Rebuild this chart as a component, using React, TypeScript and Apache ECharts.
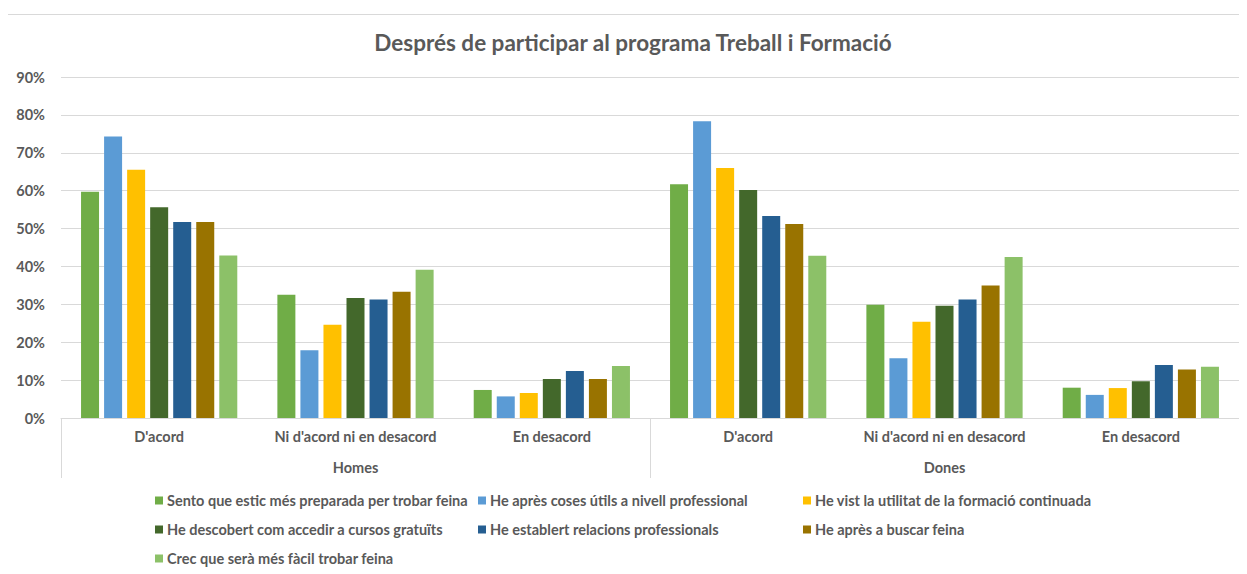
import React, { useEffect, useRef } from "react";
import * as echarts from "echarts";

const categories = ["D'acord", "Ni d'acord ni en desacord", "En desacord", "D'acord", "Ni d'acord ni en desacord", "En desacord"];
const groups = ["Homes", "Dones"];

const seriesNames = [
  "Sento que estic més preparada per trobar feina",
  "He après coses útils a nivell professional",
  "He vist la utilitat de la formació continuada",
  "He descobert com accedir a cursos gratuïts",
  "He establert relacions professionals",
  "He après a buscar feina",
  "Crec que serà més fàcil trobar feina",
];

const colors = ["#70AD47", "#5B9BD5", "#FFC000", "#43682B", "#255E91", "#997300", "#8CC168"];

const sento = [59.7, 32.5, 7.4, 61.7, 29.9, 8.0];
const coses = [74.3, 17.9, 5.7, 78.3, 15.8, 6.1];
const vist = [65.5, 24.6, 6.6, 66.0, 25.4, 7.9];
const descobert = [55.6, 31.7, 10.3, 60.2, 29.6, 9.7];
const relacions = [51.7, 31.3, 12.4, 53.3, 31.3, 14.0];
const buscar = [51.7, 33.3, 10.3, 51.2, 35.0, 12.8];
const facil = [42.9, 39.1, 13.7, 42.8, 42.5, 13.5];

const seriesValues = [sento, coses, vist, descobert, relacions, buscar, facil];

const yTicks = { min: 0, max: 90, interval: 10 };

const FONT = "Lato";
const GRAY = "#595959";
const LINE = "#d9d9d9";
const FS = 14.5;

export default function App() {
  const ref = useRef<HTMLDivElement>(null);
  useEffect(() => {
    if (!ref.current) return;
    const chart = echarts.init(ref.current, undefined, { renderer: "svg" });
    const legendPos = [
      [148, 485], [471, 485], [796, 485],
      [148, 514], [471, 514], [796, 514],
      [148, 543],
    ];
    chart.setOption({
      animation: false,
      textStyle: { fontFamily: FONT },
      title: {
        text: "Després de participar al programa Treball i Formació",
        left: 621,
        textAlign: "center",
        top: 18,
        textStyle: { fontFamily: FONT, fontSize: 22.5, fontWeight: "bold", color: GRAY },
      },
      graphic: [
        {
          type: "rect",
          shape: { x: 0.5, y: 6.5, width: 1400, height: 700 },
          style: { fill: "none", stroke: LINE, lineWidth: 1 },
          silent: true,
        },
      ],
      legend: seriesNames.map((n, i) => ({
        data: [n],
        left: legendPos[i][0],
        top: legendPos[i][1],
        padding: 0,
        itemWidth: 8,
        itemHeight: 8,
        icon: "rect",
        selectedMode: false,
        textStyle: { fontFamily: FONT, fontSize: FS, fontWeight: "bold", color: GRAY, padding: [0, 0, 0, -1] },
      })),
      grid: { left: 54, right: 8, top: 69, height: 341, containLabel: false },
      xAxis: [
        {
          type: "category",
          data: categories,
          position: "bottom",
          axisLine: { show: true, lineStyle: { color: LINE, width: 1 } },
          axisTick: { show: false },
          axisLabel: { interval: 0, margin: 11, fontFamily: FONT, fontSize: FS, fontWeight: "bold", color: GRAY },
        },
        {
          type: "category",
          data: groups,
          position: "bottom",
          axisLine: { show: false },
          axisTick: { show: true, length: 60, interval: 0, lineStyle: { color: LINE, width: 1 } },
          axisLabel: { interval: 0, margin: 42, fontFamily: FONT, fontSize: FS, fontWeight: "bold", color: GRAY },
        },
      ],
      yAxis: {
        type: "value",
        min: yTicks.min,
        max: yTicks.max,
        interval: yTicks.interval,
        axisLine: { show: false },
        axisTick: { show: false },
        splitLine: { lineStyle: { color: LINE, width: 1 } },
        axisLabel: { formatter: "{value}%", margin: 16, fontFamily: FONT, fontSize: FS, fontWeight: "bold", color: GRAY },
      },
      series: seriesNames.map((n, i) => ({
        name: n,
        type: "bar",
        xAxisIndex: 0,
        data: seriesValues[i],
        barWidth: 18,
        barGap: "28%",
        itemStyle: { color: colors[i] },
      })),
    });
    return () => chart.dispose();
  }, []);
  return <div ref={ref} style={{ width: 1240, height: 566, marginLeft: -1 }} />;
}
